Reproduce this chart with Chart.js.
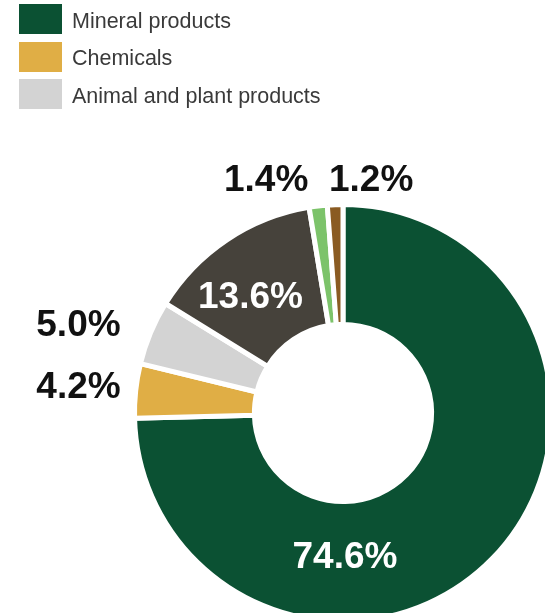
<!DOCTYPE html>
<html>
<head>
<meta charset="utf-8">
<script src="https://cdn.jsdelivr.net/npm/chart.js@4"></script>
<style>
html,body{margin:0;padding:0;background:#fff;overflow:hidden;width:545px;height:613px;}
#legend{position:absolute;left:19px;top:4px;z-index:2;font-family:"Liberation Sans",Arial,Helvetica,sans-serif;font-size:21.5px;color:#3a3a3a;}
#legend .item{display:flex;align-items:center;height:30px;margin-bottom:7.5px;}
#legend .box{width:43px;height:30px;margin-right:10px;}
#legend span{position:relative;top:2px;}
#chart{position:absolute;left:0;top:0;}
</style>
</head>
<body>
<div id="legend"></div>
<canvas id="chart" width="686" height="826"></canvas>
<script>
// slices clockwise from 12 o'clock
let categories=["Mineral products","Chemicals","Animal and plant products","Other A","Other B","Other C"];
let values=[74.6,4.2,5.0,13.6,1.4,1.2];
let colors=["#0b5133","#e0ae45","#d3d3d3","#46423b","#7cc36a","#8a5b22"];
let legendCount=3;

// where each percentage label goes (relative to the slice's geometry)
let labelStyle=[
{inside:true,r:142,angle:90,dx:2,dy:0,color:"#fff",align:"center"},
{inside:false,dx:-15,dy:-6,color:"#111",align:"right"},
{inside:false,dx:-30,dy:-10,color:"#111",align:"right"},
{inside:true,r:150,dx:-9,dy:7,color:"#fff",align:"center"},
{inside:false,dx:-52,dy:-28,color:"#111",align:"center"},
{inside:false,dx:36,dy:-27,color:"#111",align:"center"}
];

let leg=document.getElementById("legend");
for(let i=0;i<legendCount;i++){
leg.innerHTML+='<div class="item"><div class="box" style="background:'+colors[i]+'"></div><span>'+categories[i]+'</span></div>';
}

let pctLabels={
id:"pctLabels",
afterDatasetsDraw(chart){
let ctx=chart.ctx;
let arcs=chart.getDatasetMeta(0).data;
ctx.save();
ctx.font="bold 37px 'Liberation Sans', Arial, Helvetica, sans-serif";
arcs.forEach((arc,i)=>{
let p=arc.getProps(["x","y","startAngle","endAngle","innerRadius","outerRadius"],true);
let s=labelStyle[i];
let a=(p.startAngle+p.endAngle)/2;
if(s.angle!==undefined) a=s.angle*Math.PI/180;
let r=s.inside?s.r:p.outerRadius;
let x=p.x+Math.cos(a)*r+s.dx;
let y=p.y+Math.sin(a)*r+s.dy;
ctx.fillStyle=s.color;
ctx.textAlign=s.align;
ctx.textBaseline="alphabetic";
ctx.fillText(values[i].toFixed(1)+"%",x,y+13);
});
ctx.restore();
}
};

new Chart(document.getElementById("chart"),{
type:"doughnut",
data:{
labels:categories,
datasets:[{
data:values,
backgroundColor:colors,
borderColor:"#fff",
borderWidth:5,
hoverOffset:0
}]
},
options:{
responsive:false,
animation:false,
devicePixelRatio:1,
radius:208.5,
cutout:"42.5%",
plugins:{legend:{display:false},tooltip:{enabled:false}}
},
plugins:[pctLabels]
});
</script>
</body>
</html>
